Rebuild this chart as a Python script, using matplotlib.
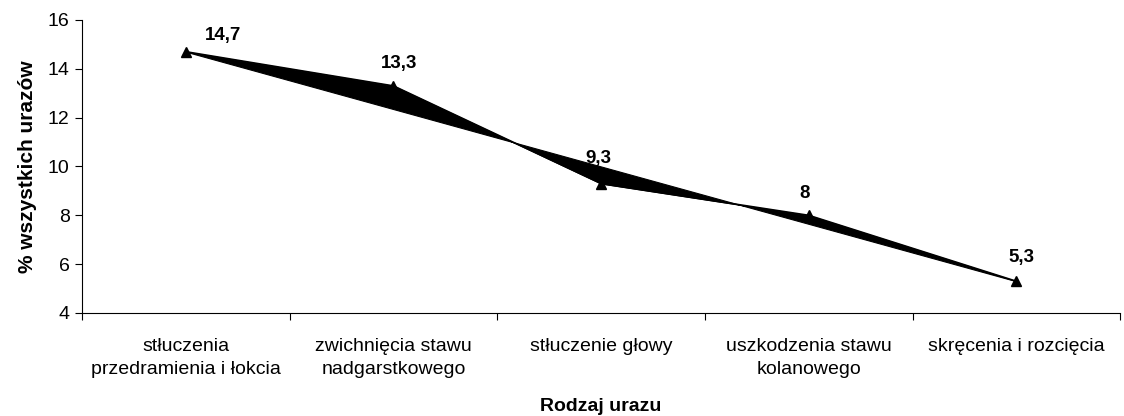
import numpy as np
import matplotlib.pyplot as plt

categories = ["stłuczenia\nprzedramienia i łokcia", "zwichnięcia stawu\nnadgarstkowego",
              "stłuczenie głowy", "uszkodzenia stawu\nkolanowego", "skręcenia i rozcięcia"]
values = [14.7, 13.3, 9.3, 8.0, 5.3]
labels = ["14,7", "13,3", "9,3", "8", "5,3"]

plt.rcParams['font.family'] = ['Liberation Sans', 'DejaVu Sans']

fig = plt.figure(figsize=(11.24, 4.16), dpi=100)
ax = fig.add_axes([0.073, 0.2476, 0.9236, 0.7044])

x = np.arange(len(values))
# Excel-style ribbon: filled between the series and the chord from first to last point
chord = np.interp(x, [x[0], x[-1]], [values[0], values[-1]])
ax.fill_between(x, values, chord, color='black', linewidth=0.8, edgecolor='black')
ax.plot(x, values, color='black', linewidth=1.2, marker='^', markersize=7)

offsets = [(27, 12), (4, 16), (-2, 18), (-3, 16), (4, 17)]
for xi, v, lab, off in zip(x, values, labels, offsets):
    ax.annotate(lab, (xi, v), xytext=off, textcoords='offset points',
                ha='center', va='center', fontsize=13.5, fontweight='bold')

ax.set_xlim(-0.5, 4.5)
ax.set_ylim(4, 16)
ax.set_yticks(range(4, 17, 2))
ax.tick_params(axis='y', labelsize=14, length=5, direction='out', pad=4)

ax.set_xticks(np.arange(-0.5, 5, 1))
ax.set_xticklabels([])
ax.tick_params(axis='x', which='major', length=5, direction='out')
ax.set_xticks(x, minor=True)
ax.set_xticklabels(categories, minor=True, fontsize=14, linespacing=1.5)
ax.tick_params(axis='x', which='minor', length=0, pad=18)

ax.spines['top'].set_visible(False)
ax.spines['right'].set_visible(False)

ax.set_ylabel("% wszystkich urazów", fontsize=15, fontweight='bold', labelpad=8)
ax.set_xlabel("Rodzaj urazu", fontsize=14, fontweight='bold', labelpad=14)

fig.savefig("out.png", dpi=100)
